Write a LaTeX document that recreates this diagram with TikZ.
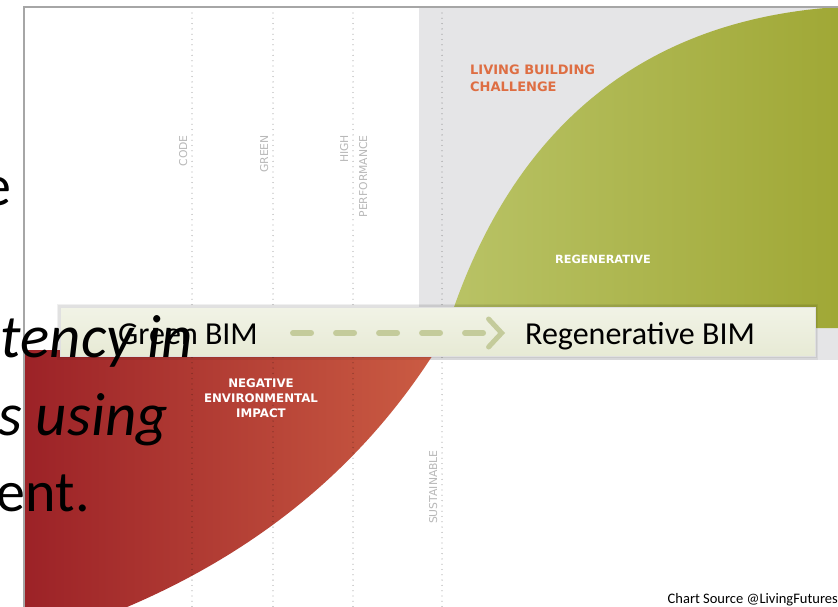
\documentclass[tikz,border=0pt]{standalone}
\usepackage{fontspec}
\setmainfont{Carlito}
\newfontfamily\dejavu{DejaVu Sans}
\usetikzlibrary{arrows.meta}
\definecolor{framegray}{HTML}{A6A6A6}
\definecolor{lbcgray}{HTML}{E5E5E7}
\definecolor{greenL}{HTML}{B9C366}
\definecolor{greenR}{HTML}{A0A836}
\definecolor{redL}{HTML}{9C2227}
\definecolor{redR}{HTML}{CB5C43}
\definecolor{lbcorange}{HTML}{DE6E43}
\definecolor{labgray}{HTML}{B8B8B8}
\definecolor{bannerT}{HTML}{F1F3E6}
\definecolor{bannerB}{HTML}{E7EAD5}
\definecolor{dashgreen}{HTML}{C4CB9B}
\tikzset{
  dotline/.style={black, opacity=0.32, line width=1.3pt, line cap=round, dash pattern=on 0pt off 5.3pt},
  axislabel/.style={rotate=90, anchor=base east, inner sep=0pt, text=labgray, font=\dejavu\fontsize{10.8}{12}\selectfont},
  zonelabel/.style={inner sep=0pt, font=\dejavu\bfseries\fontsize{13}{17}\selectfont},
  bimlabel/.style={inner sep=0pt, anchor=base west, font=\fontsize{32}{36}\selectfont},
  slidetext/.style={inner sep=0pt, anchor=base east, font=\fontsize{58}{64}\selectfont},
  slideital/.style={slidetext, font=\itshape\fontsize{61}{64}\selectfont},
  dasharrow/.style={dashgreen, line width=6pt, line cap=round, dash pattern=on 18pt off 25pt,
    -{Straight Barb[length=13pt, width=28pt, line width=5pt, line cap=round]}}
}
\begin{document}
\begin{tikzpicture}[x=1pt,y=-1pt]
\useasboundingbox (0,0) rectangle (838,607);
\fill[white] (0,0) rectangle (838,607);
\begin{scope}
\clip (0,0) rectangle (838,607);
% grey LBC zone
\fill[lbcgray] (419,8) rectangle (838,360);
% green regenerative area
\shade[left color=greenL, right color=greenR]
  (447,328) .. controls (510,130) and (640,20) .. (838,7) -- (838,328) -- cycle;
% red negative area
\shade[left color=redL, right color=redR]
  (24,350) -- (436,350) .. controls (360,470) and (250,560) .. (100,618) -- (24,618) -- cycle;
% frame
\draw[framegray, line width=1.2pt] (24,607) -- (24,7) -- (838,7);
% dotted guide lines
\draw[dotline] (192,13) -- (192,607);
\draw[dotline] (273,13) -- (273,607);
\draw[dotline] (353,13) -- (353,607);
\draw[dotline] (442,13) -- (442,607);
\end{scope}
% axis labels
\node[axislabel] (code) at (187,135) {CODE};
\node[axislabel] (green) at (268,135) {GREEN};
\node[axislabel] (high) at (348,135) {HIGH};
\node[axislabel] (perf) at (367,135) {PERFORMANCE};
\node[axislabel] (sust) at (437,450) {SUSTAINABLE};
% zone labels
\node[zonelabel, text=lbcorange, anchor=base west, align=left] (lbc) at (470,92)
  {LIVING BUILDING\\CHALLENGE};
\node[zonelabel, text=white, anchor=base west, font=\dejavu\bfseries\fontsize{11.3}{13}\selectfont] (regen) at (555,263) {REGENERATIVE};
\node[zonelabel, text=white, anchor=base, align=center, font=\dejavu\bfseries\fontsize{11.8}{15}\selectfont] (neg) at (261,417)
  {NEGATIVE\\ENVIRONMENTAL\\IMPACT};
% banner with soft shadow
\fill[black, opacity=0.06] (57,304) rectangle (818,360);
\fill[black, opacity=0.06] (58,305) rectangle (817,358);
\shade[top color=bannerT, bottom color=bannerB, draw=black!12, line width=0.6pt] (60,307) rectangle (815,356);
\node[bimlabel] (gbim) at (118,344) {Green BIM};
\node[bimlabel] (rbim) at (525,344) {Regenerative BIM};
\draw[dasharrow] ([xshift=35pt]gbim.east |- 0,333) -- ([xshift=-20pt]rbim.west |- 0,333);
% slide text overlay
\node[slidetext] (t1) at (12,205) {e};
\node[slideital] (t2) at (193,357) {tency in};
\node[slideital] (t3) at (168,435) {s using};
\node[slidetext] (t4) at (90,511) {ent.};
% source
\node[inner sep=0pt, anchor=base east, font=\fontsize{14.5}{16}\selectfont] (src) at (838,603) {Chart Source @LivingFutures};
\end{tikzpicture}
\end{document}
